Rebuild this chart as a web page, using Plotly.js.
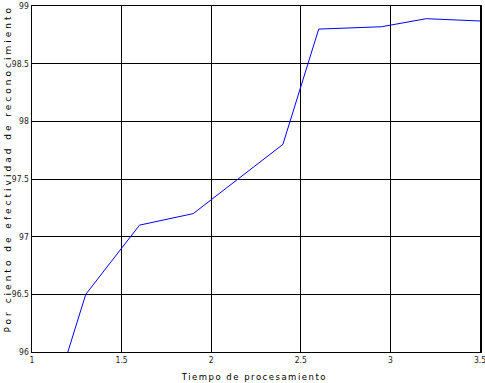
<!DOCTYPE html>
<html>
<head>
<meta charset="utf-8">
<script src="https://cdn.plot.ly/plotly-3.0.1.min.js"></script>
<style>
html,body{margin:0;padding:0;background:#fff;}
#chart{width:485px;height:383px;}
.spaced-x text{letter-spacing:1.5px;}
.spaced-y text{letter-spacing:3px;}
</style>
</head>
<body>
<div id="chart"></div>
<script>
const tiempo = [1.2, 1.3, 1.6, 1.9, 2.4, 2.6, 2.95, 3.2, 3.5];
const efectividad = [96.0, 96.5, 97.1, 97.2, 97.8, 98.8, 98.82, 98.89, 98.87];
const xTicks = [1, 1.5, 2, 2.5, 3, 3.5];
const xTickText = ['1', '1.5', '2', '2.5', '3', '3.5'];
const yTicks = [96, 96.5, 97, 97.5, 98, 98.5, 99];
const yTickText = ['96', '96.5', '97', '97.5', '98', '98.5', '99'];
const xTitle = 'Tiempo de procesamiento';
const yTitle = 'Por ciento de efectividad de reconocimiento';

const tickFont = {family: 'DejaVu Sans Condensed, Liberation Sans Narrow, sans-serif', size: 8.5, color: '#222'};
const xTitleFont = {family: 'DejaVu Sans, sans-serif', size: 8.5, color: '#000'};
const yTitleFont = {family: 'DejaVu Sans, sans-serif', size: 9, color: '#000'};

const data = [{
  x: tiempo, y: efectividad, type: 'scatter', mode: 'lines',
  line: {color: '#0000ff', width: 1}, hoverinfo: 'none'
}];

const layout = {
  width: 485, height: 383,
  margin: {l: 32, r: 5, t: 6, b: 31},
  paper_bgcolor: '#fff', plot_bgcolor: '#fff',
  showlegend: false,
  xaxis: {
    range: [1, 3.5], tickvals: xTicks, ticktext: xTickText,
    showgrid: true, gridcolor: '#000', gridwidth: 1,
    showline: true, linecolor: '#000', linewidth: 1, mirror: 'ticks',
    ticks: 'inside', ticklen: 4, tickcolor: '#000', ticklabeloverflow: 'allow',
    tickfont: tickFont, zeroline: false, fixedrange: true, automargin: false
  },
  yaxis: {
    range: [96, 99], tickvals: yTicks, ticktext: yTickText,
    showgrid: true, gridcolor: '#000', gridwidth: 1,
    showline: true, linecolor: '#000', linewidth: 1.5, mirror: 'ticks',
    ticks: 'inside', ticklen: 4, tickcolor: '#000', ticklabeloverflow: 'allow',
    tickfont: tickFont, zeroline: false, fixedrange: true, automargin: false
  },
  annotations: [
    {text: xTitle, xref: 'paper', yref: 'paper', x: 0.495, y: 0, yshift: -25,
     xanchor: 'center', yanchor: 'middle', showarrow: false, font: xTitleFont},
    {text: yTitle, xref: 'paper', yref: 'paper', x: 0, y: 0.5, xshift: -31, yshift: 10,
     xanchor: 'left', yanchor: 'middle', textangle: -90, showarrow: false, font: yTitleFont}
  ]
};

Plotly.newPlot('chart', data, layout, {staticPlot: true, displayModeBar: false}).then(function(){
  const anns = document.querySelectorAll('.annotation');
  if (anns[0]) anns[0].classList.add('spaced-x');
  if (anns[1]) anns[1].classList.add('spaced-y');
});
</script>
</body>
</html>
